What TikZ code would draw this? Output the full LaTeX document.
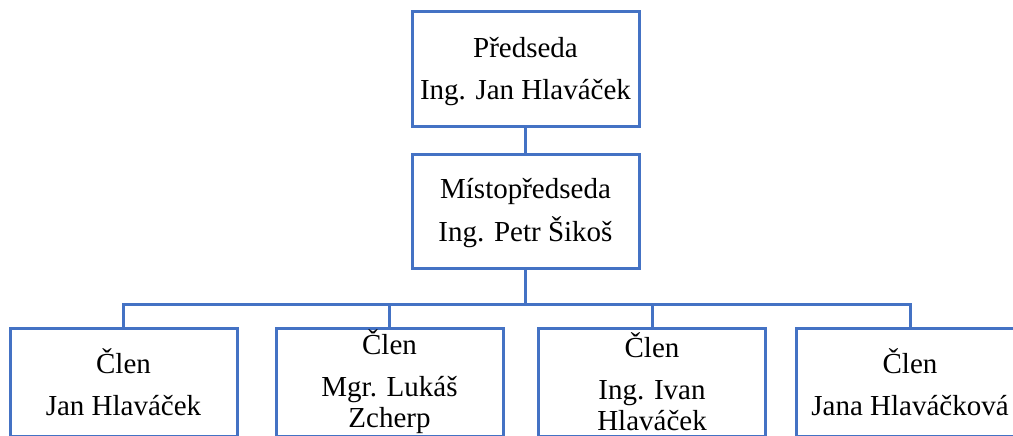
\documentclass[tikz,border=0pt]{standalone}
\usepackage{fontspec}
\setmainfont{Liberation Serif}
\usepackage{xcolor}
\usepackage{tikz}
\definecolor{bg}{HTML}{FFFFFF}
\definecolor{frame}{HTML}{4472C4}
\definecolor{text}{HTML}{000000}
\tikzset{
  box/.style={draw=frame, line width=3pt, fill=bg, text=text,
    minimum width=227pt, minimum height=114pt, align=center,
    inner sep=0pt, font=\fontsize{29}{31}\selectfont},
  lowbox/.style={box, minimum height=108pt},
  link/.style={draw=frame, line width=3pt},
}

\begin{document}
\begin{tikzpicture}[x=1pt,y=-1pt]
  \useasboundingbox[fill=bg] (0,0) rectangle (1013,436);

  \node[box] (pred) at (525.5,69) {\rule{0pt}{26pt}Předseda\\[11pt]Ing. Jan Hlaváček};
  \node[box] (mist) at (525.5,211) {\rule{0pt}{25pt}Místopředseda\\[11pt]Ing. Petr Šikoš};
  \coordinate (bus) at (525.5,304);

  \node[lowbox] (clen1) at (123.5,382) {Člen\\[11pt]Jan Hlaváček};
  \node[lowbox] (clen2) at (389.5,382) {Člen\\[11pt]Mgr. Lukáš\\Zcherp};
  \node[lowbox] (clen3) at (652,382) {Člen\\[11pt]Ing. Ivan\\Hlaváček};
  \node[lowbox] (clen4) at (910,382) {Člen\\[11pt]Jana Hlaváčková};

  \draw[link] (pred) -- (mist);
  \draw[link] (mist) -- (bus);
  \foreach \n in {clen1,clen2,clen3,clen4}{
    \draw[link] (bus) -| (\n.north);
  }
\end{tikzpicture}
\end{document}
